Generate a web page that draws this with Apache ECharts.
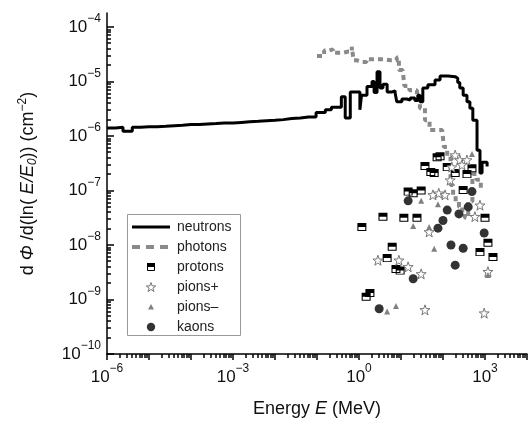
<!DOCTYPE html>
<html><head><meta charset="utf-8">
<script src="https://cdn.jsdelivr.net/npm/echarts@6/dist/echarts.min.js"></script>
<style>html,body{margin:0;padding:0;background:#fff}#c{width:528px;height:423px}</style>
</head><body><div id="c"></div>
<script>
// ---- data ----
const neutronE = [1e-6,1.58e-6,2.4e-6,4e-6,6.3e-6,1e-5,1.58e-5,2.5e-5,4e-5,6.3e-5,1e-4,1.58e-4,2.5e-4,4e-4,6.3e-4,1e-3,1.58e-3,2.5e-3,4e-3,6.3e-3,0.01,0.0158,0.025,0.04,0.063,0.095,0.158,0.22,0.38,0.47,0.62,0.79,1.05,1.15,1.55,2.04,2.29,2.69,3.16,3.72,4.68,6.17,7.24,7.94,10.5,13.8,16.6,21.4,25.1,28.2,33.1,43.6,64.6,85.1,132,195,224,251,302,372,437,513,646,759,851,1122];
const neutronV = [1.41e-6,1.45e-6,1.23e-6,1.45e-6,1.48e-6,1.48e-6,1.51e-6,1.55e-6,1.58e-6,1.62e-6,1.62e-6,1.66e-6,1.70e-6,1.74e-6,1.74e-6,1.78e-6,1.82e-6,1.86e-6,1.91e-6,1.95e-6,2.0e-6,2.09e-6,2.14e-6,2.24e-6,2.24e-6,2.69e-6,3.02e-6,3.39e-6,5.25e-6,2.14e-6,6.46e-6,6.46e-6,3.02e-6,5.62e-6,8.13e-6,1.0e-5,6.31e-6,1.51e-5,7.59e-6,8.91e-6,6.46e-6,6.76e-6,6.17e-6,4.27e-6,4.79e-6,4.57e-6,5.01e-6,4.47e-6,5.62e-6,4.27e-6,7.59e-6,8.71e-6,1.07e-5,1.26e-5,1.23e-5,1.15e-5,9.55e-6,7.59e-6,5.62e-6,4.27e-6,3.24e-6,1.95e-6,5.5e-7,2.09e-7,3.31e-7,2.75e-7];

const photonE = [0.1,0.148,0.195,0.24,0.324,0.427,0.562,0.676,0.741,0.891,1.15,1.51,2.51,3.98,5.62,7.94,8.91,11.0,12.0,15.8,20.0,24.0,28.2,37.2,47.9,70.8,95.5,105,126,151,174,200,240,288,331,398,501,631,794];
const photonV = [2.95e-5,3.72e-5,3.89e-5,3.39e-5,3.39e-5,3.55e-5,3.55e-5,4.37e-5,2.45e-5,2.29e-5,2.29e-5,2.57e-5,2.57e-5,2.45e-5,2.45e-5,2.75e-5,1.62e-5,1.51e-5,8.32e-6,6.92e-6,6.92e-6,5.62e-6,3.24e-6,1.95e-6,1.29e-6,1.29e-6,1.29e-6,6.31e-7,4.17e-7,1.26e-7,7.94e-8,6.31e-8,5.01e-8,3.98e-8,3.16e-8,6.31e-8,2.0e-7,1.58e-7,1.0e-7];

const protonE = [85.1,72.4,37.2,51.3,61.7,126,195,372,490,14.8,19.5,30.2,302,3.72,11.7,24.0,1.17,1000,1175,759,6.17,4.68,7.59,9.55,1.82,1.48,1549];
const protonV = [4.27e-7,4.07e-7,2.82e-7,2.19e-7,2.09e-7,2.69e-7,2.09e-7,2.0e-7,2.57e-7,9.55e-8,8.91e-8,1.0e-7,1.02e-7,3.31e-8,3.16e-8,3.16e-8,2.14e-8,3.16e-8,1.10e-8,7.41e-9,9.33e-9,5.75e-9,3.63e-9,3.39e-9,1.32e-9,1.12e-9,6.03e-9];

const pionPlusE = [195,251,372,162,282,148,57.5,79.4,112,759,575,46.8,2.82,8.91,14.8,30.2,1175,37.2,955];
const pionPlusV = [4.47e-7,3.63e-7,3.63e-7,2.69e-7,2.95e-7,1.55e-7,8.32e-8,8.91e-8,8.32e-8,5.37e-8,3.31e-8,1.74e-8,5.25e-9,5.25e-9,3.98e-9,2.95e-9,3.24e-9,6.46e-10,5.62e-10];

const pionMinusE = [490,30.2,75.9,19.5,46.8,61.7,4.68,7.59,1175];
const pionMinusV = [4.68e-7,6.46e-8,5.62e-8,2.24e-8,2.14e-8,8.51e-9,6.03e-10,7.59e-10,2.82e-9];

const kaonE = [490,14.8,126,398,240,100,75.9,955,155,302,195,19.5,3.02];
const kaonV = [9.55e-8,6.46e-8,4.37e-8,5.01e-8,3.72e-8,2.82e-8,2.04e-8,1.66e-8,1.0e-8,8.71e-9,4.27e-9,2.4e-9,6.76e-10];

const legendNames = ['neutrons', 'photons', 'protons', 'pions+', 'pions\u2013', 'kaons'];

// ---- axis ticks ----
const xMajorTicks = [1e-6,1e-5,1e-4,1e-3,1e-2,1e-1,1,10,100,1000,10000];
const xTickLabels = [1e-6,1e-3,1,1000];
const yMajorTicks = [1e-10,1e-9,1e-8,1e-7,1e-6,1e-5,1e-4];
const yTickLabels = yMajorTicks;
function minorTicks(d0, d1, max) {
  const out = [];
  for (let d = d0; d <= d1; d++) for (let m = 2; m <= 9; m++) {
    const v = m * Math.pow(10, d);
    if (v < max) out.push(v);
  }
  return out;
}
const X_MIN = 1e-6, X_MAX = 1e4, Y_MIN = 1e-10, Y_MAX = 1.81e-4;
const xMinorTicks = minorTicks(-6, 3, X_MAX);
const yMinorTicks = minorTicks(-10, -4, Y_MAX);

const zip = (a, b) => a.map((v, i) => [v, b[i]]);
const FONT = 'Liberation Sans';

function powLabel(v) {
  const e = Math.round(Math.log10(v));
  return '{a|10}{b|' + (e < 0 ? '\u2212' + (-e) : e) + '}';
}
const labelRich = {
  a: { fontFamily: FONT, fontSize: 17, color: '#111', lineHeight: 28 },
  b: { fontFamily: FONT, fontSize: 12, color: '#111', lineHeight: 10, verticalAlign: 'top' }
};

const starPath = 'path://M50,0L61.76,33.82L97.55,34.55L69.02,56.18L79.39,90.45L50,70L20.61,90.45L30.98,56.18L2.45,34.55L38.24,33.82Z';
const protonPath = 'path://M0,0H10V5H0Z M0,5H10V10H0Z M1.2,5V8.8H8.8V5Z';

// manual legend box (decoration)
function starPoints(cx, cy, R, r) {
  const pts = [];
  for (let k = 0; k < 10; k++) {
    const a = -Math.PI / 2 + k * Math.PI / 5;
    const rad = k % 2 ? r : R;
    pts.push([cx + rad * Math.cos(a), cy + rad * Math.sin(a)]);
  }
  return pts;
}
const LG = { x: 127.5, y: 214.5, w: 113, h: 121, iconL: 132, iconR: 170, iconC: 151, textX: 177, row0: 227, pitch: 20 };
const rowY = i => LG.row0 + i * LG.pitch;
const legendGraphic = [
  { type: 'rect', shape: { x: LG.x, y: LG.y, width: LG.w, height: LG.h }, style: { fill: '#fff', stroke: '#999', lineWidth: 1 }, z: 20 },
  { type: 'line', shape: { x1: LG.iconL, y1: rowY(0), x2: LG.iconR, y2: rowY(0) }, style: { stroke: '#000', lineWidth: 3 }, z: 21 },
  { type: 'line', shape: { x1: LG.iconL, y1: rowY(1), x2: LG.iconR, y2: rowY(1) }, style: { stroke: '#8a8a8a', lineWidth: 4, lineDash: [8, 6] }, z: 21 },
  { type: 'rect', shape: { x: LG.iconC - 4, y: rowY(2) - 4, width: 8, height: 4 }, style: { fill: '#000' }, z: 21 },
  { type: 'rect', shape: { x: LG.iconC - 3.5, y: rowY(2) - 3.5, width: 7, height: 7 }, style: { fill: 'none', stroke: '#000', lineWidth: 1 }, z: 21 },
  { type: 'polygon', shape: { points: starPoints(LG.iconC, rowY(3) + 0.5, 5, 2) }, style: { fill: '#fff', stroke: '#777', lineWidth: 1 }, z: 21 },
  { type: 'polygon', shape: { points: [[LG.iconC, rowY(4) - 3], [LG.iconC + 3, rowY(4) + 2.5], [LG.iconC - 3, rowY(4) + 2.5]] }, style: { fill: '#808080' }, z: 21 },
  { type: 'circle', shape: { cx: LG.iconC, cy: rowY(5), r: 4.2 }, style: { fill: '#333' }, z: 21 }
].concat(legendNames.map((n, i) => ({
  type: 'text', x: LG.textX, y: rowY(i), z: 21,
  style: { text: n, fill: '#222', font: '14px "' + FONT + '"', verticalAlign: 'middle', textVerticalAlign: 'middle' }
})));

const axisLineStyle = { color: '#000', width: 1.5 };
const GRID = { left: 107, right: 1, top: 13, bottom: 69 };

const option = {
  backgroundColor: '#fff',
  animation: false,
  grid: { left: GRID.left, right: GRID.right, top: GRID.top, bottom: GRID.bottom, containLabel: false, outerBoundsMode: 'none' },
  xAxis: {
    type: 'log', min: X_MIN, max: X_MAX, position: 'bottom',
    axisLine: { show: true, lineStyle: axisLineStyle },
    axisTick: { show: false },
    axisLabel: { show: true, margin: 9, customValues: xTickLabels, formatter: powLabel, rich: labelRich },
    splitLine: { show: false },
    name: 'Energy {i|E} (MeV)', nameLocation: 'middle', nameGap: 46,
    nameTextStyle: { fontFamily: FONT, fontSize: 18, color: '#111',
      rich: { i: { fontFamily: FONT, fontSize: 18, fontStyle: 'italic', color: '#111' } } }
  },
  yAxis: {
    type: 'log', min: Y_MIN, max: Y_MAX, position: 'left',
    axisLine: { show: true, lineStyle: axisLineStyle },
    axisTick: { show: false },
    axisLabel: { show: true, margin: 6, customValues: yTickLabels, formatter: powLabel, rich: labelRich },
    splitLine: { show: false },
    name: 'd{i| \u03A6 }/d(ln({i| E/E}{s|0})) (cm{p|\u22122})',
    nameLocation: 'middle', nameRotate: 90, nameGap: 68,
    nameTextStyle: { fontFamily: FONT, fontSize: 18, color: '#111',
      rich: {
        i: { fontFamily: FONT, fontSize: 18, fontStyle: 'italic', color: '#111', lineHeight: 22 },
        s: { fontFamily: FONT, fontSize: 12, fontStyle: 'italic', color: '#111', lineHeight: 12, verticalAlign: 'bottom' },
        p: { fontFamily: FONT, fontSize: 12, color: '#111', lineHeight: 12, verticalAlign: 'top' }
      } }
  },
  series: [
    { name: 'neutrons', type: 'line', step: 'end', symbol: 'none', showSymbol: false,
      data: zip(neutronE, neutronV), lineStyle: { color: '#000', width: 3 }, itemStyle: { color: '#000' }, z: 3 },
    { name: 'photons', type: 'line', step: 'end', symbol: 'none', showSymbol: false,
      data: zip(photonE, photonV), lineStyle: { color: '#8a8a8a', width: 4, type: [5, 4] }, itemStyle: { color: '#8a8a8a' }, z: 2 },
    { name: 'protons', type: 'scatter', symbol: protonPath, symbolSize: [9, 8],
      data: zip(protonE, protonV), itemStyle: { color: '#000', opacity: 1 }, z: 4 },
    { name: 'pions+', type: 'scatter', symbol: starPath, symbolSize: 10,
      data: zip(pionPlusE, pionPlusV), itemStyle: { color: '#fff', borderColor: '#777', borderWidth: 1, opacity: 1 }, z: 5 },
    { name: 'pions\u2013', type: 'scatter', symbol: 'triangle', symbolSize: 6,
      data: zip(pionMinusE, pionMinusV), itemStyle: { color: '#808080', opacity: 1 }, z: 5 },
    { name: 'kaons', type: 'scatter', symbol: 'circle', symbolSize: 9,
      data: zip(kaonE, kaonV), itemStyle: { color: '#333', opacity: 1 }, z: 4 }
  ]
};

const chart = echarts.init(document.getElementById('c'), null, { renderer: 'canvas' });
chart.setOption(option);

// axis tick positions via the chart's scales, checked against the grid geometry
const W = 528, H = 423;
const lg = Math.log10;
const gw = W - GRID.left - GRID.right, gh = H - GRID.top - GRID.bottom;
const xGeo = v => GRID.left + (lg(v) - lg(X_MIN)) / (lg(X_MAX) - lg(X_MIN)) * gw;
const yGeo = v => H - GRID.bottom - (lg(v) - lg(Y_MIN)) / (lg(Y_MAX) - lg(Y_MIN)) * gh;
function conv(x, y) {
  try { return chart.convertToPixel({ seriesIndex: 2 }, [x, y]); } catch (e) { return null; }
}
function xPx(v) {
  const r = conv(v, 1e-7), g = xGeo(v);
  return (r && isFinite(r[0]) && Math.abs(r[0] - g) < 3) ? r[0] : g;
}
function yPx(v) {
  const r = conv(1, v), g = yGeo(v);
  return (r && isFinite(r[1]) && Math.abs(r[1] - g) < 3) ? r[1] : g;
}
const axisY = yPx(Y_MIN), axisX = xPx(X_MIN);
const tickGraphic = [];
function addX(values, len) {
  values.forEach(v => {
    const x = Math.round(xPx(v));
    tickGraphic.push({ type: 'rect', z: 25, shape: { x: x - 0.75, y: axisY, width: 1.5, height: len }, style: { fill: '#000' } });
  });
}
function addY(values, len) {
  values.forEach(v => {
    const y = Math.round(yPx(v));
    tickGraphic.push({ type: 'rect', z: 25, shape: { x: axisX, y: y - 0.75, width: len, height: 1.5 }, style: { fill: '#000' } });
  });
}
addX(xMajorTicks, 6);
addX(xMinorTicks, 4);
addY(yMajorTicks, 7);
addY(yMinorTicks, 4);
chart.setOption({ graphic: { elements: legendGraphic.concat(tickGraphic) } });
</script>
</body></html>
